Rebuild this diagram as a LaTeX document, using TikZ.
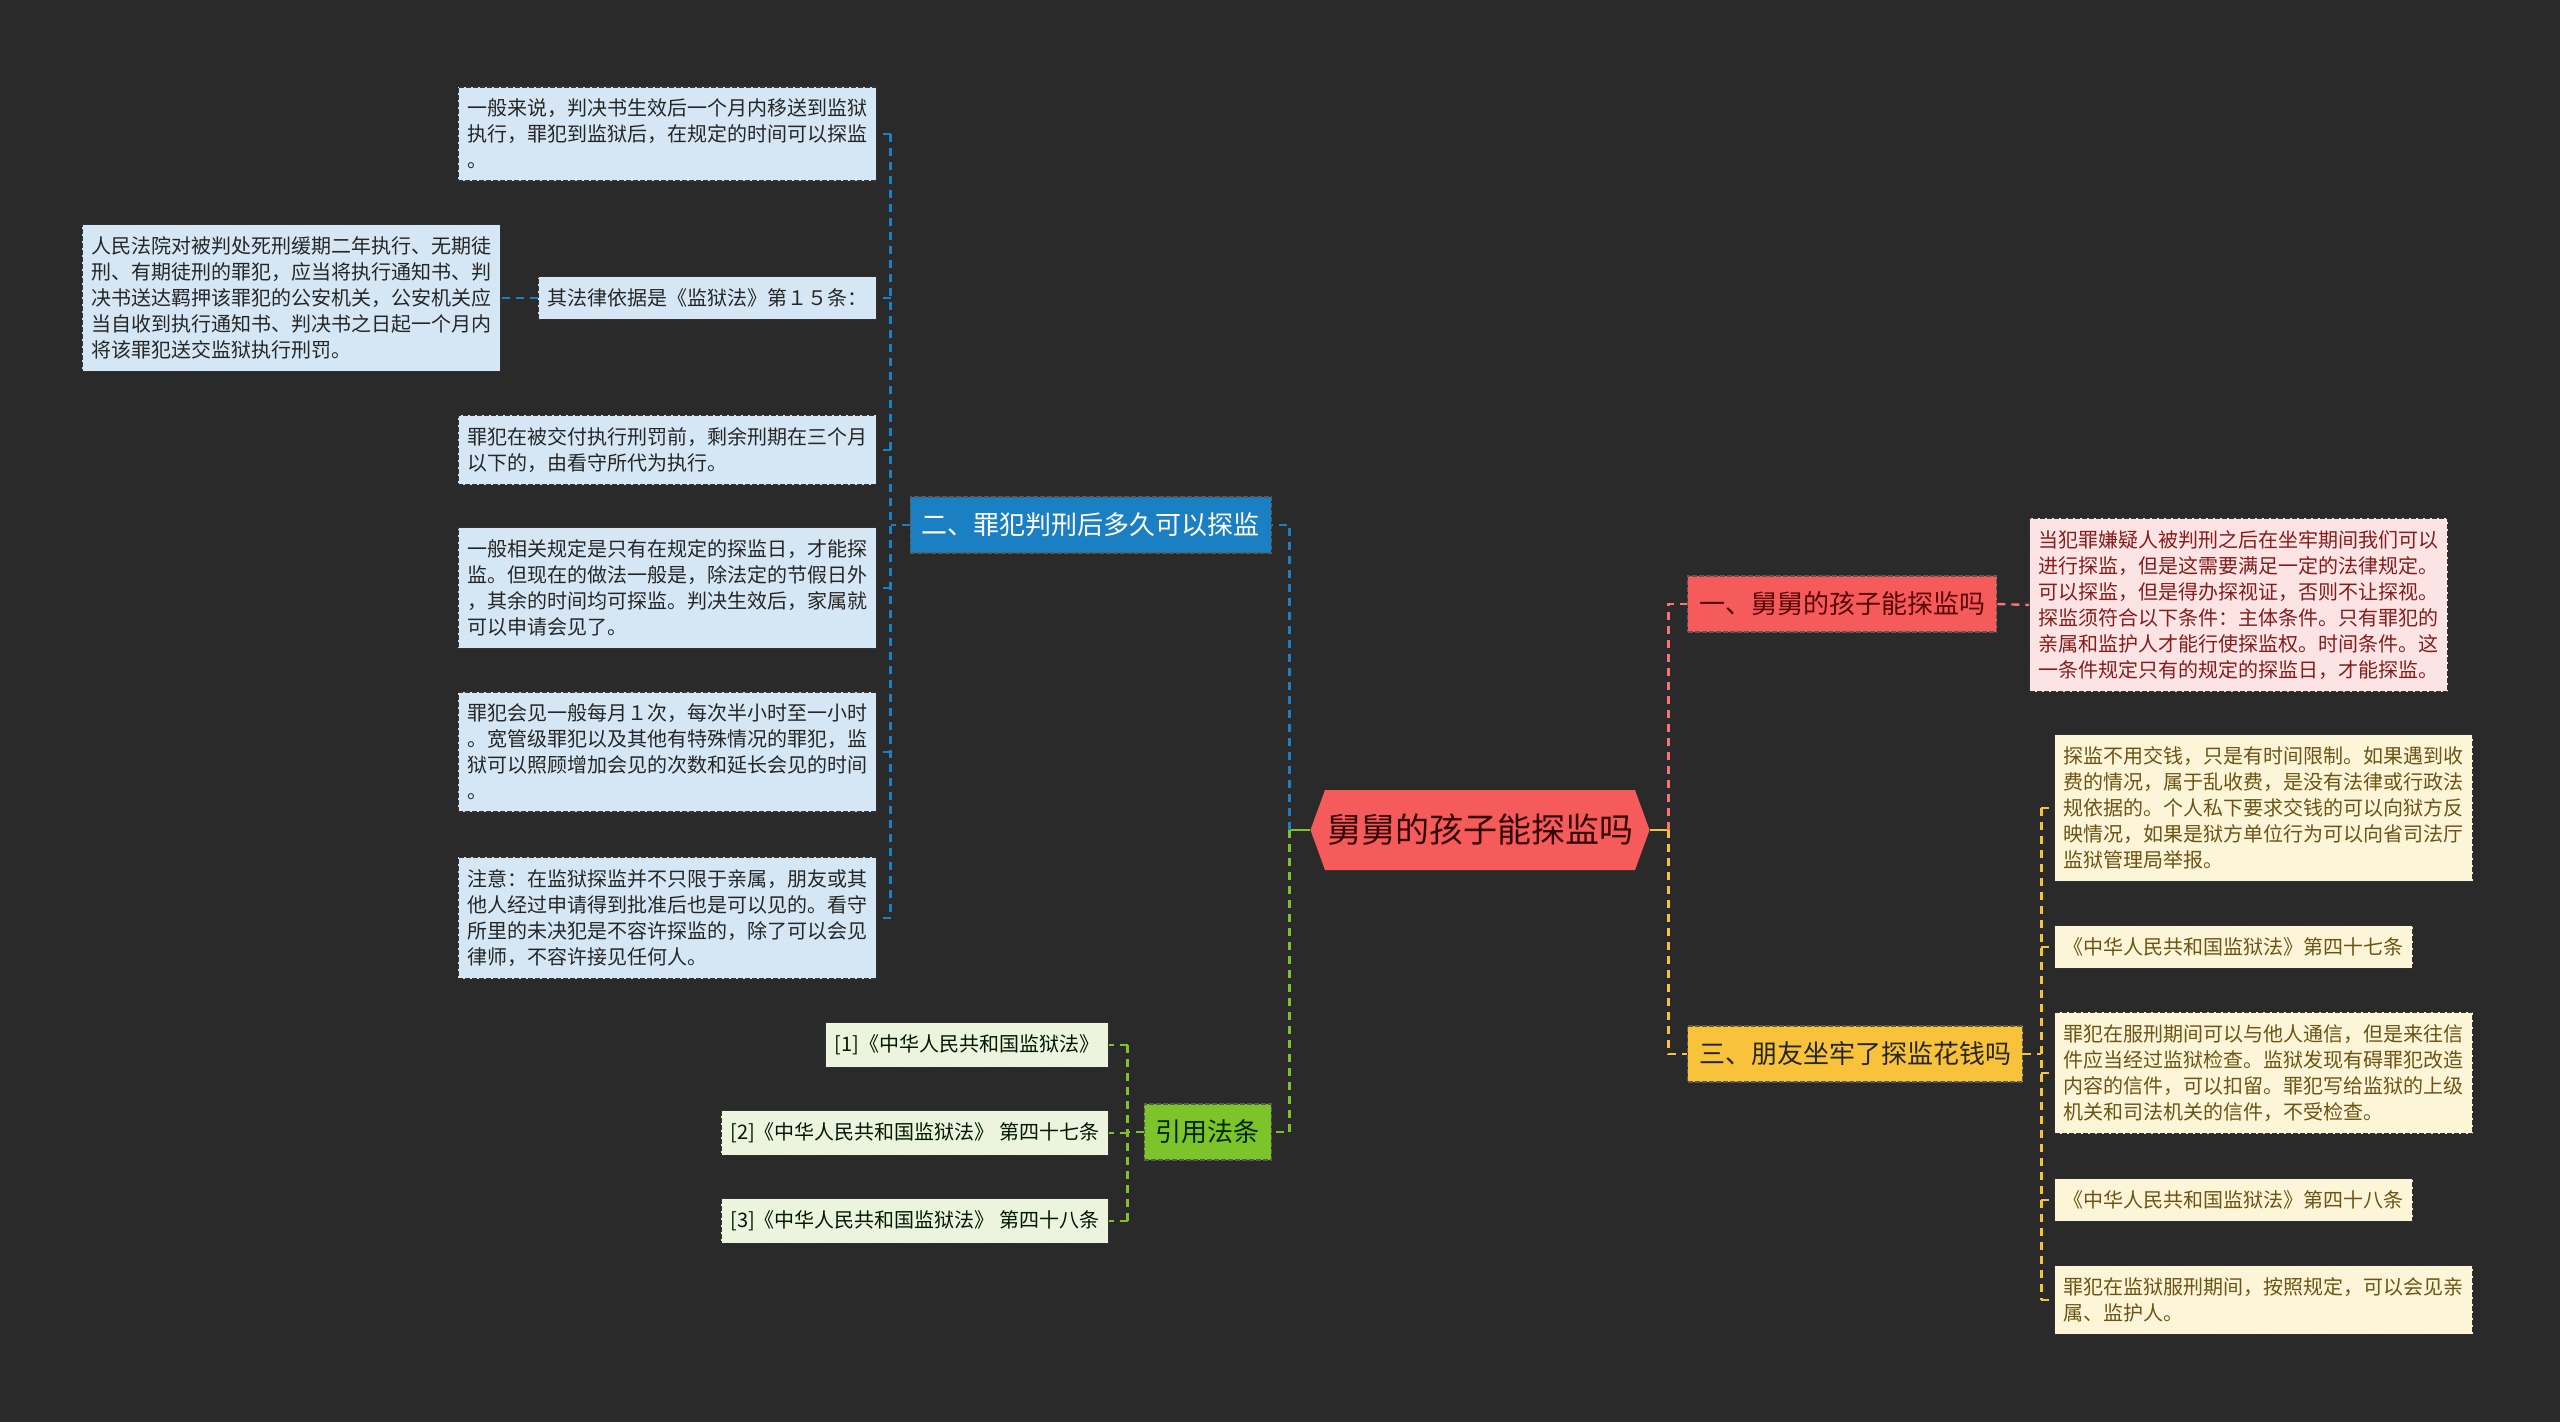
\documentclass[tikz,border=0pt]{standalone}
\usepackage{fontspec}
\setmainfont{Noto Sans CJK SC}
\usepackage{tikz}
\usetikzlibrary{shapes.symbols,calc}
\definecolor{bgc}{HTML}{2A2A2A}
\definecolor{mainc}{HTML}{F65B5C}
\definecolor{bluec}{HTML}{1B7FC4}
\definecolor{redc}{HTML}{F65B5C}
\definecolor{yelc}{HTML}{F8C33A}
\definecolor{grnc}{HTML}{7DC42A}
\definecolor{bluel}{HTML}{D5E7F4}
\definecolor{redl}{HTML}{FDE4E4}
\definecolor{yell}{HTML}{FDF5D8}
\definecolor{grnl}{HTML}{ECF4DD}
\definecolor{yelt}{HTML}{6B5414}
\definecolor{redt}{HTML}{861C1C}
\tikzset{every picture/.style={line width=0.75pt}}
\tikzset{
  leaf/.style={draw=black!80, dash pattern=on 2.5pt off 1pt, line width=0.6pt,
    inner xsep=4.5pt, inner ysep=6pt, align=left, font=\fontsize{10}{13}\selectfont},
  branch/.style={draw=black!65, dash pattern=on 2.5pt off 1pt, line width=0.6pt,
    inner xsep=5.8pt, inner ysep=8pt, font=\fontsize{13}{15}\selectfont},
  conn/.style={line width=1.2pt, dash pattern=on 4pt off 3pt},
  bline/.style={conn, bluec},
  rline/.style={conn, redc!85!white},
  yline/.style={conn, yelc},
  gline/.style={conn, grnc},
}

\begin{document}
\begin{tikzpicture}[x=0.5pt, y=-0.5pt]
    \fill[bgc] (0,0) rectangle (2560,1422);
    \useasboundingbox (0,0) rectangle (2560,1422);
    % 中心主题
    \node[signal, signal to=west and east, signal pointer angle=140, fill=mainc,
      text=black!80!red, inner xsep=1pt, minimum height=40pt,
      font=\fontsize{17}{20}\selectfont] (main) at (1480,830) {舅舅的孩子能探监吗};
    % 分支
    \node[branch, fill=redc, text=red!35!black, anchor=west] (b1) at (1687,604) {一、舅舅的孩子能探监吗};
    \node[branch, fill=bluec, text=white, anchor=east] (b2) at (1272,525) {二、罪犯判刑后多久可以探监};
    \node[branch, fill=yelc, text=black!85, anchor=west] (b3) at (1687,1054) {三、朋友坐牢了探监花钱吗};
    \node[branch, fill=grnc, text=green!15!black, anchor=east] (b4) at (1272,1132) {引用法条};
    % 一
    \node[leaf, fill=redl, text=redt, anchor=west] (rl) at (2029,605)
      {当犯罪嫌疑人被判刑之后在坐牢期间我们可以\\进行探监，但是这需要满足一定的法律规定。\\可以探监，但是得办探视证，否则不让探视。\\探监须符合以下条件：主体条件。只有罪犯的\\亲属和监护人才能行使探监权。时间条件。这\\一条件规定只有的规定的探监日，才能探监。};
    % 二
    \node[leaf, fill=bluel, text=black!85, anchor=east] (bl1) at (877,134)
      {一般来说，判决书生效后一个月内移送到监狱\\执行，罪犯到监狱后，在规定的时间可以探监\\。};
    \node[leaf, fill=bluel, text=black!85, anchor=east] (bl2) at (877,298) {其法律依据是《监狱法》第１５条：};
    \node[leaf, fill=bluel, text=black!85, anchor=east] (bl3) at (501,298)
      {人民法院对被判处死刑缓期二年执行、无期徒\\刑、有期徒刑的罪犯，应当将执行通知书、判\\决书送达羁押该罪犯的公安机关，公安机关应\\当自收到执行通知书、判决书之日起一个月内\\将该罪犯送交监狱执行刑罚。};
    \node[leaf, fill=bluel, text=black!85, anchor=east] (bl4) at (877,450)
      {罪犯在被交付执行刑罚前，剩余刑期在三个月\\以下的，由看守所代为执行。};
    \node[leaf, fill=bluel, text=black!85, anchor=east] (bl5) at (877,588)
      {一般相关规定是只有在规定的探监日，才能探\\监。但现在的做法一般是，除法定的节假日外\\，其余的时间均可探监。判决生效后，家属就\\可以申请会见了。};
    \node[leaf, fill=bluel, text=black!85, anchor=east] (bl6) at (877,752)
      {罪犯会见一般每月１次，每次半小时至一小时\\。宽管级罪犯以及其他有特殊情况的罪犯，监\\狱可以照顾增加会见的次数和延长会见的时间\\。};
    \node[leaf, fill=bluel, text=black!85, anchor=east] (bl7) at (877,918)
      {注意：在监狱探监并不只限于亲属，朋友或其\\他人经过申请得到批准后也是可以见的。看守\\所里的未决犯是不容许探监的，除了可以会见\\律师，不容许接见任何人。};
    % 三
    \node[leaf, fill=yell, text=yelt, anchor=west] (yl1) at (2054,808)
      {探监不用交钱，只是有时间限制。如果遇到收\\费的情况，属于乱收费，是没有法律或行政法\\规依据的。个人私下要求交钱的可以向狱方反\\映情况，如果是狱方单位行为可以向省司法厅\\监狱管理局举报。};
    \node[leaf, fill=yell, text=yelt, anchor=west] (yl2) at (2054,947) {《中华人民共和国监狱法》第四十七条};
    \node[leaf, fill=yell, text=yelt, anchor=west] (yl3) at (2054,1073)
      {罪犯在服刑期间可以与他人通信，但是来往信\\件应当经过监狱检查。监狱发现有碍罪犯改造\\内容的信件，可以扣留。罪犯写给监狱的上级\\机关和司法机关的信件，不受检查。};
    \node[leaf, fill=yell, text=yelt, anchor=west] (yl4) at (2054,1200) {《中华人民共和国监狱法》第四十八条};
    \node[leaf, fill=yell, text=yelt, anchor=west] (yl5) at (2054,1300)
      {罪犯在监狱服刑期间，按照规定，可以会见亲\\属、监护人。};
    % 引用法条
    \node[leaf, fill=grnl, text=green!10!black, anchor=east] (gl1) at (1109,1045) {[1]《中华人民共和国监狱法》};
    \node[leaf, fill=grnl, text=green!10!black, anchor=east] (gl2) at (1109,1133) {[2]《中华人民共和国监狱法》 第四十七条};
    \node[leaf, fill=grnl, text=green!10!black, anchor=east] (gl3) at (1109,1221) {[3]《中华人民共和国监狱法》 第四十八条};
    % 连线
    \coordinate (lj) at ($(main.west)+(-20,0)$);
    \coordinate (rj) at ($(main.east)+(18,0)$);
    \draw[grnc, line width=1.2pt] (main.west) -- (lj);
    \draw[yelc, line width=1.2pt] (main.east) -- (rj);
    \draw[bline] (lj) |- (b2.east);
    \draw[gline] (lj) |- (b4.east);
    \draw[rline] (rj) |- (b1.west);
    \draw[yline] (rj) |- (b3.west);
    \draw[rline] (b1.east) -- (rl.west);
    \coordinate (bs) at ($(b2.west)+(-19,0)$);
    \draw[bline] (b2.west) -- (bs);
    \draw[bline] (bl1.east -| bs) -- (bl7.east -| bs);
    \foreach \n in {bl1,bl2,bl4,bl5,bl6,bl7}
      \draw[bline] (\n.east -| bs) -- (\n.east);
    \draw[bline] (bl2.west) -- (bl3.east);
    \coordinate (ys) at ($(b3.east)+(18,0)$);
    \draw[yline] (b3.east) -- (ys);
    \draw[yline] (yl1.west -| ys) -- (yl5.west -| ys);
    \foreach \n in {yl1,yl2,yl3,yl4,yl5}
      \draw[yline] (\n.west -| ys) -- (\n.west);
    \coordinate (gs) at ($(b4.west)+(-16,0)$);
    \draw[gline] (b4.west) -- (gs);
    \draw[gline] (gl1.east -| gs) -- (gl3.east -| gs);
    \foreach \n in {gl1,gl2,gl3}
      \draw[gline] (\n.east -| gs) -- (\n.east);
\end{tikzpicture}
\end{document}
